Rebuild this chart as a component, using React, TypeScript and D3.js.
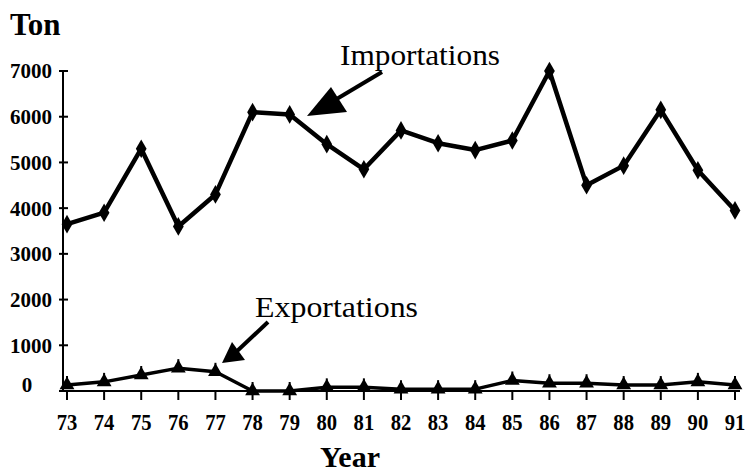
import React from "react";
import * as d3 from "d3";

const years = ["73", "74", "75", "76", "77", "78", "79", "80", "81", "82", "83", "84", "85", "86", "87", "88", "89", "90", "91"];
const importations = [3650, 3900, 5300, 3600, 4300, 6100, 6050, 5400, 4850, 5700, 5420, 5270, 5480, 7000, 4500, 4930, 6150, 4830, 3950];
const exportations = [130, 200, 350, 500, 420, 0, 0, 80, 80, 40, 40, 40, 230, 170, 170, 130, 130, 200, 130];
const yTicks = [0, 1000, 2000, 3000, 4000, 5000, 6000, 7000];

const W = 747;
const H = 472;
const FONT = "'Liberation Serif', 'Times New Roman', serif";

export default function App() {
  const x = d3.scalePoint<string>().domain(years).range([67, 735]);
  const y = d3.scaleLinear().domain([0, 7000]).range([391, 71]);

  const line = d3
    .line<number>()
    .x((_, i) => x(years[i]) ?? 0)
    .y((d) => y(d));

  const diamond = d3.symbol().type(d3.symbolDiamond).size(100)();
  const triangle = d3.symbol().type(d3.symbolTriangle).size(95)();

  return (
    <svg
      width={W}
      height={H}
      style={{ position: "absolute", left: 0, top: 0, background: "#fff" }}
    >
      {/* axis titles */}
      <text x={10} y={35} fontFamily={FONT} fontSize={31} fontWeight="bold">Ton</text>
      <text x={350} y={467} fontFamily={FONT} fontSize={30} fontWeight="bold" textAnchor="middle">Year</text>

      {/* y axis */}
      <line x1={63} x2={63} y1={y(7000)} y2={y(0)} stroke="#000" strokeWidth={2} />
      {yTicks.map((t) => (
        <g key={t} transform={`translate(0,${y(t)})`}>
          <line x1={59} x2={68} stroke="#000" strokeWidth={2} />
          <text
            x={t === 0 ? 27 : 52}
            dy={t === 0 ? "0.05em" : "0.35em"}
            textAnchor={t === 0 ? "middle" : "end"}
            fontFamily={FONT}
            fontSize={21}
            fontWeight="bold"
          >
            {t}
          </text>
        </g>
      ))}

      {/* x axis */}
      <line x1={63} x2={740} y1={y(0)} y2={y(0)} stroke="#000" strokeWidth={2} />
      {years.map((yr) => (
        <g key={yr} transform={`translate(${x(yr)},0)`}>
          <line y1={y(0)} y2={y(0) + 9} stroke="#000" strokeWidth={2} />
          <text
            y={430}
            textAnchor="middle"
            fontFamily={FONT}
            fontSize={24}
            fontWeight="bold"
            transform="scale(0.86,1)"
          >
            {yr}
          </text>
        </g>
      ))}

      {/* importations */}
      <path d={line(importations) ?? ""} fill="none" stroke="#000" strokeWidth={4.5} strokeLinejoin="round" />
      {importations.map((v, i) => (
        <path key={i} d={diamond ?? ""} transform={`translate(${x(years[i])},${y(v)})`} fill="#000" />
      ))}

      {/* exportations */}
      <path d={line(exportations) ?? ""} fill="none" stroke="#000" strokeWidth={3.5} strokeLinejoin="round" />
      {exportations.map((v, i) => (
        <g key={i} transform={`translate(${x(years[i])},${y(v)})`}>
          <line y1={-9} y2={2} stroke="#000" strokeWidth={2} />
          <path d={triangle ?? ""} fill="#000" />
        </g>
      ))}

      {/* annotations */}
      <text x={340} y={65} fontFamily={FONT} fontSize={30} textLength={160} lengthAdjust="spacingAndGlyphs">Importations</text>
      <line x1={382} y1={72} x2={335} y2={100} stroke="#000" strokeWidth={4} />
      <polygon points="307,116 331,87 347,112" fill="#000" />

      <text x={255} y={317} fontFamily={FONT} fontSize={30} textLength={163} lengthAdjust="spacingAndGlyphs">Exportations</text>
      <line x1={268} y1={322} x2={235} y2={353} stroke="#000" strokeWidth={4} />
      <polygon points="222,363 232,342 245,360" fill="#000" />
    </svg>
  );
}
